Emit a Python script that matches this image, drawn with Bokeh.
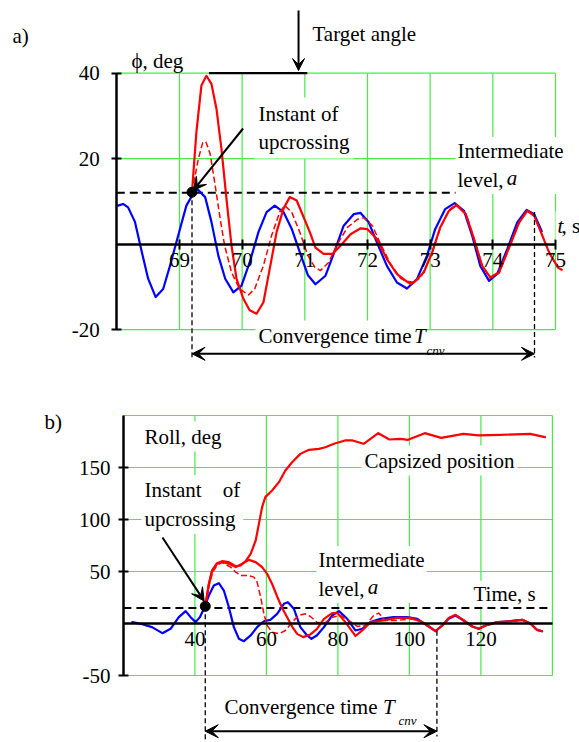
from bokeh.plotting import figure
from bokeh.models import Range1d, FixedTicker, Label, Arrow, VeeHead
from bokeh.layouts import column
from bokeh.embed import file_html
from bokeh.resources import INLINE

# ---------------- Panel a data ----------------
a_level = 12.0
a_target = 40.0
a_xticks = [69, 70, 71, 72, 73, 74, 75]
a_yticks = [-20, 20, 40]
a_up_t = [69.20]
a_up_phi = [12.15]
a_conv_end_t = 74.665
a_conv_end_phi = 7.5

a_blue_t = [68.02, 68.10, 68.18, 68.29, 68.40, 68.50, 68.62, 68.74, 68.85, 68.98, 69.11, 69.27,
            69.41, 69.51, 69.62, 69.73, 69.86, 69.99, 70.12, 70.26, 70.39, 70.52, 70.66, 70.79,
            70.92, 71.05, 71.17, 71.33, 71.46, 71.62, 71.78, 71.89, 72.02, 72.15, 72.31, 72.47,
            72.63, 72.79, 72.95, 73.08, 73.24, 73.39, 73.54, 73.67, 73.80, 73.94, 74.07, 74.23,
            74.39, 74.54, 74.66, 74.78]
a_blue_phi = [9.0, 9.4, 8.6, 5.2, -1.9, -8.1, -12.4, -10.5, -5.0, 2.0, 9.0, 13.1,
              11.0, 5.2, -2.7, -8.1, -11.3, -9.7, -4.3, 2.8, 7.5, 9.0, 7.5, 3.6,
              -1.9, -7.3, -9.4, -7.4, -2.3, 4.3, 7.0, 7.3, 5.1, 0.4, -5.1, -9.0,
              -10.4, -8.2, -2.7, 3.5, 8.2, 9.6, 7.8, 2.0, -5.1, -8.6, -7.0, -1.2,
              5.1, 8.0, 7.0, 3.0]

a_red_t = [69.20, 69.27, 69.35, 69.43, 69.51, 69.59, 69.67, 69.75, 69.83, 69.91, 70.02, 70.12,
           70.23, 70.34, 70.44, 70.55, 70.66, 70.76, 70.87, 70.97, 71.08, 71.17, 71.30, 71.44,
           71.57, 71.73, 71.89, 72.00, 72.15, 72.31, 72.47, 72.63, 72.74, 72.90, 73.03, 73.16,
           73.30, 73.42, 73.57, 73.70, 73.83, 73.96, 74.10, 74.26, 74.42, 74.55, 74.66, 74.77,
           74.90, 75.04, 75.10]
a_red_phi = [12.15, 26.2, 37.1, 39.4, 37.5, 31.7, 22.3, 10.6, -0.3, -8.1, -12.8, -15.5,
             -16.3, -13.6, -5.8, 2.8, 8.3, 11.0, 10.2, 6.7, 2.8, -0.8, -2.3, -2.3,
             -0.4, 2.3, 3.7, 3.5, 1.2, -3.5, -7.0, -8.8, -9.0, -6.6, -2.0, 3.9,
             7.8, 9.1, 7.0, 1.2, -5.1, -7.8, -6.6, -0.8, 5.1, 7.8, 6.6, 2.7,
             -2.0, -5.5, -6.0]

a_dash_t = [69.20, 69.30, 69.37, 69.42, 69.49, 69.57, 69.65, 69.72, 69.83, 69.96, 70.10, 70.20,
            70.34, 70.47, 70.60, 70.68, 70.79, 70.92, 71.05, 71.16, 71.25, 71.38, 71.52, 71.68,
            71.84, 71.94, 72.08, 72.21, 72.37, 72.53, 72.69, 72.85, 73.03, 73.16, 73.30, 73.42,
            73.57, 73.70, 73.83, 73.96, 74.10, 74.26, 74.42, 74.55, 74.66]
a_dash_phi = [12.15, 19.9, 23.7, 24.0, 21.1, 13.7, 5.9, -0.3, -6.6, -10.5, -11.9, -10.5,
              -5.0, 2.0, 7.5, 9.0, 7.5, 2.8, -2.7, -5.4, -6.2, -4.3, 0.0, 3.9,
              5.8, 6.2, 4.3, 0.0, -4.7, -8.0, -9.4, -7.8, -2.2, 3.7, 8.0, 9.3,
              7.1, 1.3, -5.0, -8.0, -6.8, -0.9, 5.0, 7.9, 6.8]

# ---------------- Panel b data ----------------
b_level = 15.0
b_xticks = [40, 60, 80, 100, 120]
b_xgrid = [40, 60, 80, 100, 120, 140]
b_yticks = [-50, 50, 100, 150]
b_ygrid = [-50, 50, 100, 150, 200]
b_up_t = [42.9]
b_up_phi = [16.5]
b_conv_end_t = 107.7
b_conv_end_phi = -7.0

b_blue_t = [22.5, 24.8, 28.0, 30.9, 33.2, 35.5, 37.4, 38.8, 40.2, 41.4, 42.5, 43.9, 45.3, 46.7,
            48.1, 49.5, 50.9, 52.3, 53.7, 55.6, 57.4, 59.3, 61.1, 63.0, 64.9, 66.0, 67.7, 69.5,
            71.4, 72.6, 74.1, 76.1, 78.4, 80.3, 82.6, 84.9, 86.8, 89.1, 91.9, 95.6, 99.4, 102.2,
            105.4, 107.3, 109.2, 111.0, 112.9, 115.2, 117.6, 119.4, 121.8, 124.6, 128.3, 131.6,
            133.9, 135.7, 137.1]
b_blue_phi = [1.3, -0.3, -3.5, -9.3, -5.1, 6.1, 11.9, 6.1, 1.3, 6.1, 14.1, 26.9, 36.5, 38.8,
              31.7, 15.7, -3.5, -14.7, -17.0, -11.5, -3.5, 2.2, 3.5, 9.3, 18.9, 20.5, 14.1, -3.5,
              -11.5, -14.7, -11.5, -3.5, 7.7, 11.9, 4.5, -6.7, -5.1, 1.3, 4.5, 6.1, 6.1, 4.5,
              -2.9, -7.4, -1.9, 4.5, 7.7, 2.9, -2.9, -5.1, -1.3, 1.3, 2.2, 3.5,
              -0.3, -6.1, -7.4]

b_cap_t = [42.9, 43.9, 44.8, 46.2, 47.6, 49.5, 51.4, 52.8, 54.2, 55.6, 57.0, 57.9, 58.8, 59.7,
           61.6, 63.5, 65.3, 67.2, 69.5, 71.9, 74.7, 76.5, 78.9, 82.0, 84.1, 87.2, 91.3, 94.4,
           97.5, 99.6, 104.3, 108.9, 115.1, 119.3, 125.5, 133.8, 137.9]
b_cap_phi = [16.5, 38.1, 51.0, 58.0, 59.9, 59.0, 55.0, 55.8, 59.9, 67.0, 79.8, 95.8, 111.9, 121.5,
             127.9, 135.9, 147.1, 155.1, 163.1, 167.0, 167.9, 169.5, 172.8, 176.0, 176.0, 172.8, 183.0, 176.9,
             177.6, 176.6, 183.0, 178.5, 182.4, 180.8, 181.4, 182.4, 179.2]

b_red_t = [42.9, 43.9, 44.8, 46.2, 47.6, 49.5, 51.4, 53.2, 55.1, 57.0, 58.8, 60.2, 61.6, 63.0,
           64.4, 65.8, 67.2, 68.6, 70.3, 72.3, 74.1, 76.1, 78.4, 79.8, 82.1, 84.9, 86.8, 89.1,
           92.8, 96.5, 100.3, 103.1, 105.4, 107.3, 109.2, 111.0, 112.9, 115.2, 117.6, 119.4,
           121.8, 124.6, 128.3, 131.6, 133.9, 135.7, 137.1]
b_red_phi = [16.5, 37.5, 50.5, 57.5, 59.3, 57.5, 54.2, 57.4, 61.2, 59.0, 54.2, 47.8, 38.0, 26.0,
             15.0, 6.0, -3.0, -10.0, -13.1, -10.5, -5.5, 4.5, 10.0, 10.3, 1.3, -12.0, -6.7, 1.3,
             2.9, 5.4, 5.4, 2.2, -2.5, -7.4, -1.9, 5.4, 8.3, 2.9, -2.9, -5.1,
             -1.3, 1.3, 2.2, 3.5, -0.3, -6.1, -7.4]

b_dash_t = [42.9, 44.0, 45.0, 46.3, 47.6, 50.0, 51.4, 52.8, 54.7, 56.5, 57.4, 58.4, 59.3, 60.2,
            61.6, 63.5, 65.3, 67.2, 69.0, 70.9, 72.3, 74.1, 76.1, 78.4, 80.7, 83.1, 85.4, 87.7,
            90.0, 91.4, 93.3, 96.5, 100.3, 103.1, 105.4, 107.3, 109.2, 111.0, 112.9, 115.2,
            117.6, 119.4, 121.8, 124.6, 128.3, 131.6, 133.9, 135.7, 137.1]
b_dash_phi = [16.5, 37.0, 49.5, 56.5, 58.5, 54.2, 49.4, 46.2, 46.2, 44.6, 39.8, 25.3, 9.3, -1.9,
              -8.3, -9.9, -6.7, 1.3, 7.7, 9.3, 6.7, 1.3, -0.3, 6.1, 7.7, 2.9, -2.9, -1.9,
              7.7, 10.0, 2.9, 2.9, 4.5, 2.2, -2.9, -7.4, -1.9, 5.4, 8.3, 2.9,
              -2.9, -5.1, -1.3, 1.3, 2.2, 3.5, -0.3, -6.1, -7.4]

# ---------------- styling ----------------
FONT = "Liberation Serif"
GREEN = "#44ee44"
RED = "#ff0000"
BLUE = "#0000ff"

W = 579
HA = 372
HB = 370

# pixel -> data helpers for annotation placement (panel a)
def ax(x):
    return 68 + (x - 116.3) / 62.67

def ay(y):
    return (243.6 - y) / 4.272

# panel b (Y in page pixels)
def bx(x):
    return 20 + (x - 122.9) / 3.575

def by(Y):
    return (623.0 - Y) / 1.04


def label(p, text, x, y, size=21, style="normal", bg=True, pad=2):
    kw = dict(x=x, y=y, text=text, text_font=FONT, text_font_size=f"{size}px",
              text_font_style=style, text_baseline="middle", text_align="left",
              text_color="black", text_line_height=1.2)
    if bg:
        kw.update(background_fill_color="white", padding=pad)
    p.add_layout(Label(**kw))


def style_axes(p):
    p.outline_line_color = None
    p.xgrid.visible = False
    p.ygrid.visible = False
    for axis in (p.xaxis[0], p.yaxis[0]):
        axis.axis_line_color = "black"
        axis.axis_line_width = 2.5
        axis.major_tick_line_color = "black"
        axis.major_tick_line_width = 2
        axis.minor_tick_line_color = None
        axis.major_label_text_font = FONT
        axis.major_label_text_font_size = "21px"
        axis.major_label_text_color = "black"


CURVE = dict(line_width=2.2, line_join="round", line_cap="round")
DCURVE = dict(line_width=1.5, line_dash="6 3", line_join="round")

# ================= Panel a =================
pa = figure(width=W, height=HA, x_range=Range1d(ax(0), ax(W)), y_range=Range1d(ay(HA), ay(0)),
            min_border=0, toolbar_location=None, output_backend="svg", tools="")
style_axes(pa)
pa.xaxis.fixed_location = 0
pa.yaxis.fixed_location = 68
pa.xaxis.bounds = (68, 75)
pa.yaxis.bounds = (-20, 40)
pa.xaxis.ticker = FixedTicker(ticks=a_xticks)
pa.yaxis.ticker = FixedTicker(ticks=a_yticks)
pa.yaxis.major_label_overrides = {t: str(t) for t in a_yticks}
pa.xaxis.major_tick_in = 5
pa.xaxis.major_tick_out = 5
pa.xaxis.major_label_standoff = 4
pa.yaxis.major_tick_in = 5
pa.yaxis.major_tick_out = 5
pa.yaxis.major_label_standoff = 12

# grid
pa.segment(x0=a_xticks, y0=[-20] * len(a_xticks), x1=a_xticks, y1=[40] * len(a_xticks),
           line_color=GREEN, line_width=1.2)
pa.segment(x0=[68] * len(a_yticks), y0=a_yticks, x1=[75] * len(a_yticks), y1=a_yticks,
           line_color=GREEN, line_width=1.2)

# level a
pa.line([68, 75.03], [a_level, a_level], line_color="black", line_width=2, line_dash="8 5")

# curves
pa.line(a_blue_t, a_blue_phi, line_color=BLUE, **CURVE)
pa.line(a_dash_t, a_dash_phi, line_color=RED, **DCURVE)
pa.line(a_red_t, a_red_phi, line_color=RED, **CURVE)

# target angle line
pa.line([69.47, 71.04], [a_target, a_target], line_color="black", line_width=2.2)

# convergence dashed verticals
pa.line([a_up_t[0], a_up_t[0]], [a_up_phi[0], ay(357)], line_color="black", line_width=1.3, line_dash="5 3")
pa.line([a_conv_end_t, a_conv_end_t], [a_conv_end_phi, ay(357)], line_color="black", line_width=1.3, line_dash="5 3")

pa.scatter(a_up_t, a_up_phi, size=10, color="black")

# labels panel a
label(pa, "a)", ax(12), ay(35), bg=False)
label(pa, "Target angle", ax(312), ay(33), bg=False)
label(pa, "\u03d5, deg", ax(131), ay(60), bg=False)
label(pa, "Instant of\nupcrossing", ax(254), ay(127.5), pad=4)
label(pa, "Intermediate\nlevel, ", ax(455), ay(165), pad=2)
label(pa, "a", ax(506.3), ay(177), style="italic", bg=False)
label(pa, "t", ax(555), ay(225), style="italic", pad=2)
label(pa, ", s", ax(561), ay(225), bg=False)
label(pa, "Convergence time ", ax(255), ay(335), pad=3)
label(pa, "T", ax(413.6), ay(335), style="italic", bg=False)
label(pa, "cnv", ax(426), ay(350), size=13, style="italic", bg=False)

# arrows panel a
pa.add_layout(Arrow(end=VeeHead(size=12, fill_color="black", line_color="black"),
                    x_start=70.90, y_start=ay(10), x_end=70.90, y_end=ay(70),
                    line_color="black", line_width=2))
pa.add_layout(Arrow(end=VeeHead(size=13, fill_color="black", line_color="black"),
                    x_start=ax(242.6), y_start=ay(128), x_end=a_up_t[0] + 0.02, y_end=a_up_phi[0] + 0.4,
                    line_color="black", line_width=2))
pa.add_layout(Arrow(start=VeeHead(size=13, fill_color="black", line_color="black"),
                    end=VeeHead(size=13, fill_color="black", line_color="black"),
                    x_start=a_up_t[0], y_start=ay(353.3), x_end=a_conv_end_t, y_end=ay(353.3),
                    line_color="black", line_width=2))

# ================= Panel b =================
pb = figure(width=W, height=HB, x_range=Range1d(bx(0), bx(W)), y_range=Range1d(by(372 + HB), by(372)),
            min_border=0, toolbar_location=None, output_backend="svg", tools="")
style_axes(pb)
pb.xaxis.fixed_location = 0
pb.yaxis.fixed_location = 20
pb.xaxis.bounds = (20, 140)
pb.yaxis.bounds = (-50, 200)
pb.xaxis.ticker = FixedTicker(ticks=b_xticks)
pb.yaxis.ticker = FixedTicker(ticks=b_yticks)
pb.yaxis.major_label_overrides = {t: str(t) for t in b_yticks}
pb.xaxis.major_tick_in = 0
pb.xaxis.major_tick_out = 0
pb.xaxis.major_label_standoff = 8
pb.yaxis.major_tick_in = 5
pb.yaxis.major_tick_out = 5
pb.yaxis.major_label_standoff = 8

pb.segment(x0=b_xgrid, y0=[-50] * len(b_xgrid), x1=b_xgrid, y1=[200] * len(b_xgrid),
           line_color=GREEN, line_width=1.2)
pb.segment(x0=[20] * len(b_ygrid), y0=b_ygrid, x1=[140] * len(b_ygrid), y1=b_ygrid,
           line_color=GREEN, line_width=1.2)

pb.line([20, 140], [b_level, b_level], line_color="black", line_width=2, line_dash="8 5")

pb.line(b_blue_t, b_blue_phi, line_color=BLUE, **CURVE)
pb.line(b_dash_t, b_dash_phi, line_color=RED, **DCURVE)
pb.line(b_red_t, b_red_phi, line_color=RED, **CURVE)
pb.line(b_cap_t, b_cap_phi, line_color=RED, **CURVE)

pb.line([b_up_t[0], b_up_t[0]], [b_up_phi[0], by(742)], line_color="black", line_width=1.3, line_dash="5 3")
pb.line([b_conv_end_t, b_conv_end_t], [b_conv_end_phi, by(736)], line_color="black", line_width=1.3, line_dash="5 3")

pb.scatter(b_up_t, b_up_phi, size=10, color="black")

label(pb, "b)", bx(44), by(421.7), bg=False)
label(pb, "Roll, deg", bx(141), by(436), pad=3)
label(pb, "Capsized position", bx(361), by(460), pad=3)
label(pb, "Instant\u00a0\u00a0\u00a0\u00a0of\nupcrossing", bx(141), by(504), pad=3)
label(pb, "Intermediate\nlevel, ", bx(316), by(574), pad=2)
label(pb, "a", bx(367.3), by(586.7), style="italic", bg=False)
label(pb, "Time, s", bx(472), by(593.3), pad=1)
label(pb, "Convergence time ", bx(224), by(706.7), bg=False)
label(pb, "T", bx(382.6), by(706.7), style="italic", bg=False)
label(pb, "cnv", bx(398), by(720), size=13, style="italic", bg=False)

pb.add_layout(Arrow(end=VeeHead(size=13, fill_color="black", line_color="black"),
                    x_start=bx(162), y_start=by(537), x_end=b_up_t[0] - 0.3, y_end=b_up_phi[0] + 5,
                    line_color="black", line_width=2))
pb.add_layout(Arrow(start=VeeHead(size=13, fill_color="black", line_color="black"),
                    end=VeeHead(size=13, fill_color="black", line_color="black"),
                    x_start=b_up_t[0], y_start=by(730.7), x_end=b_conv_end_t, y_end=by(730.7),
                    line_color="black", line_width=2))

layout = column(pa, pb, spacing=0)
open("out.html", "w").write(file_html(layout, INLINE))
